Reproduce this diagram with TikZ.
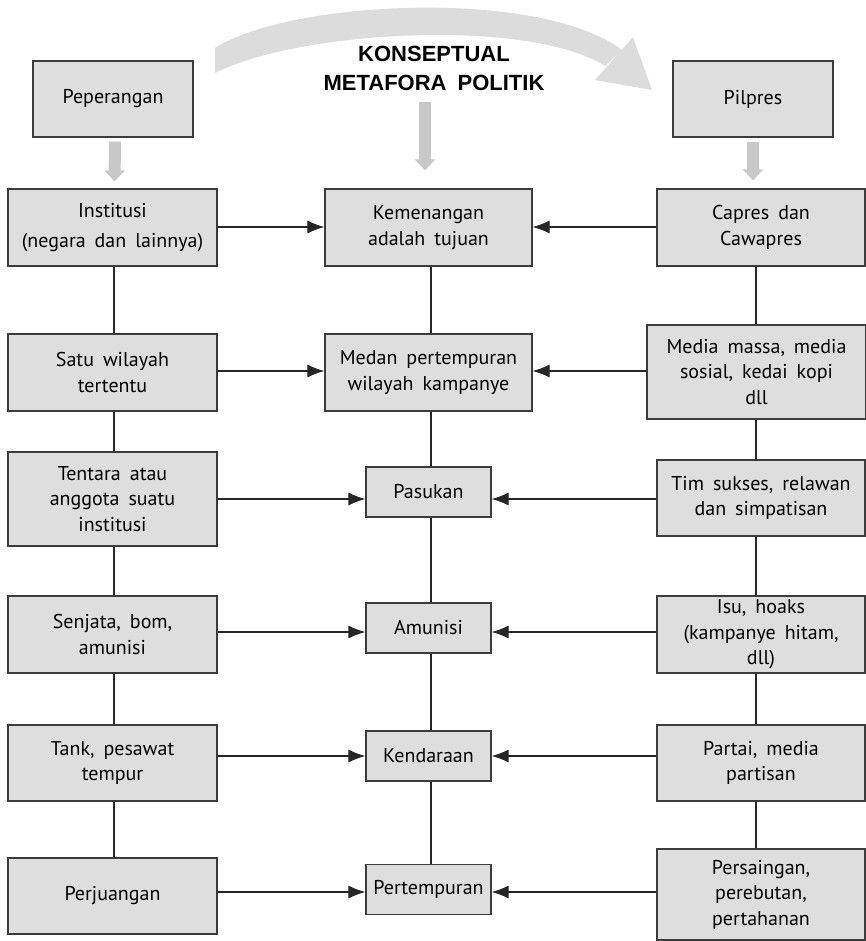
\documentclass[tikz,border=0pt]{standalone}
\usepackage{fontspec}
\setmainfont{PT Sans}
\newfontfamily\ttlfont{Liberation Sans}
\usetikzlibrary{arrows.meta}
\definecolor{boxfill}{HTML}{DEDEDE}
\definecolor{boxline}{HTML}{3C3C3C}
\definecolor{arcgray}{HTML}{DCDCDC}
\definecolor{arrgray}{HTML}{C8C8C8}
\newcommand\bxfont{\fontsize{20}{25.5}\selectfont\spaceskip=0.45em plus 0.1em minus 0.05em\relax}
\tikzset{
  bx/.style={draw=boxline, fill=boxfill, line width=1.2pt, align=center, inner sep=0pt, font=\bxfont},
  lbox/.style={bx, minimum width=209pt},
  mbox/.style={bx, minimum width=207pt, minimum height=77pt},
  sbox/.style={bx, minimum width=125pt, minimum height=50pt},
  rbox/.style={bx, minimum width=208pt},
  conn/.style={line width=1.1pt, draw=black!85},
  arr/.style={conn, -{Latex[length=17pt,width=13pt]}},
  grayarr/.style={draw=arrgray, line width=12pt, -{Triangle[length=11pt,width=20pt]}}
}
\begin{document}
\begin{tikzpicture}[x=1pt,y=-1pt]
\useasboundingbox (0,0) rectangle (866,941);
% big curved arrow
\fill[arcgray] (215,48) .. controls (290,0) and (540,-12) .. (622,50)
   -- (605,66) .. controls (530,18) and (300,30) .. (215,73) -- cycle;
\fill[arcgray] (595,80) -- (633,37) -- (652,90) -- cycle;
% title
\node[font={\ttlfont\bfseries\fontsize{22}{29}\selectfont\spaceskip=0.5em\relax}, align=center, inner sep=0pt, anchor=base] (T) at (434,91) {KONSEPTUAL\\METAFORA POLITIK};
% top boxes
\node[bx, minimum width=160pt, minimum height=76pt] (P1) at (113,99) {Peperangan};
\node[bx, minimum width=160pt, minimum height=76pt] (P2) at (753,99) {Pilpres};
% left column
\node[lbox, minimum height=77pt] (L1) at (112.5,227.5) {Institusi\\[5pt](negara dan lainnya)};
\node[lbox, minimum height=77pt] (L2) at (112.5,372.5) {Satu wilayah\\tertentu};
\node[lbox, minimum height=94pt] (L3) at (112.5,499) {Tentara atau\\anggota suatu\\institusi};
\node[lbox, minimum height=77pt] (L4) at (112.5,634.5) {Senjata, bom,\\amunisi};
\node[lbox, minimum height=76pt] (L5) at (112.5,763) {Tank, pesawat\\tempur};
\node[lbox, minimum height=76pt] (L6) at (112.5,896) {Perjuangan};
% middle column
\node[mbox] (M1) at (428.5,227.5) {Kemenangan\\adalah tujuan};
\node[mbox] (M2) at (428.5,372.5) {Medan pertempuran\\wilayah kampanye};
\node[sbox] (M3) at (428.5,492) {Pasukan};
\node[sbox] (M4) at (428.5,628) {Amunisi};
\node[sbox] (M5) at (428.5,756) {Kendaraan};
\node[sbox] (M6) at (428.5,889.5) {Pertempuran};
% right column
\node[rbox, minimum height=77pt] (R1) at (761,227.5) {Capres dan\\Cawapres};
\node[bx, minimum width=219pt, minimum height=94pt] (R2) at (756.5,372) {Media massa, media\\sosial, kedai kopi\\dll};
\node[rbox, minimum height=76pt] (R3) at (761,498) {Tim sukses, relawan\\dan simpatisan};
\node[rbox, minimum height=77pt] (R4) at (761,634.5) {Isu, hoaks\\(kampanye hitam,\\dll)};
\node[rbox, minimum height=76pt] (R5) at (761,763) {Partai, media\\partisan};
\node[rbox, minimum height=91pt] (R6) at (761,894.5) {Persaingan,\\perebutan,\\pertahanan};
% gray down arrows
\draw[grayarr] ([xshift=2pt,yshift=-4pt]P1.south) -- ([xshift=2pt,yshift=7pt]L1.north);
\draw[grayarr] ([xshift=-9pt,yshift=-11pt]T.base) -- ([xshift=-3.5pt,yshift=18pt]M1.north);
\draw[grayarr] ([yshift=-4pt]P2.south) -- ([xshift=-8pt,yshift=8pt]R1.north);
% vertical connector x positions
\coordinate (xl) at (114,0);
\coordinate (xm) at (431,0);
\coordinate (xr) at (756,0);
\foreach \a/\b in {L1/L2,L2/L3,L3/L4,L4/L5,L5/L6}{\draw[conn] (\a.south -| xl) -- (\b.north -| xl);}
\foreach \a/\b in {M1/M2,M2/M3,M3/M4,M4/M5,M5/M6}{\draw[conn] (\a.south -| xm) -- (\b.north -| xm);}
\foreach \a/\b in {R1/R2,R2/R3,R3/R4,R4/R5,R5/R6}{\draw[conn] (\a.south -| xr) -- (\b.north -| xr);}
% horizontal arrows
\foreach \i/\yy in {1/227,2/371,3/499,4/632,5/756,6/892}{
  \coordinate (h\i) at (0,\yy);
  \draw[arr] (L\i.east |- h\i) -- (M\i.west |- h\i);
  \draw[arr] (R\i.west |- h\i) -- (M\i.east |- h\i);
}
\end{tikzpicture}
\end{document}
